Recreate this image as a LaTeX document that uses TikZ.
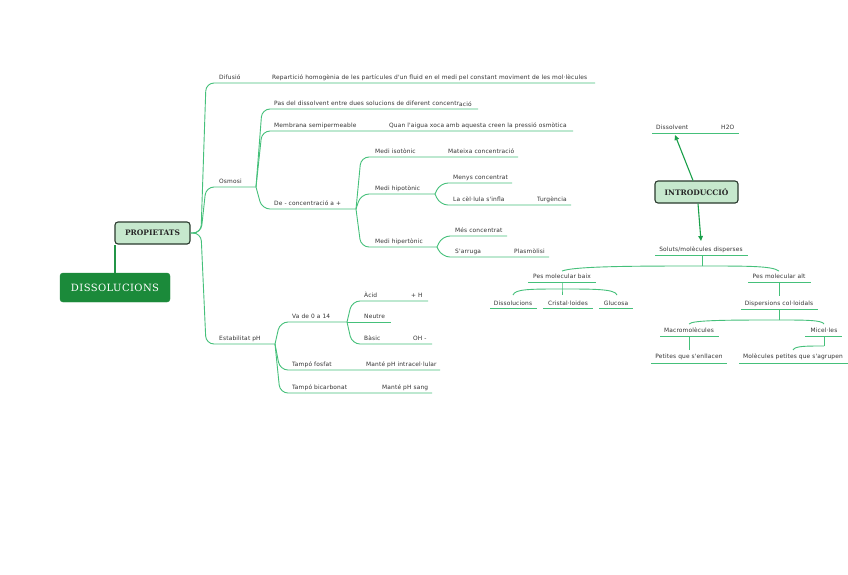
\documentclass[tikz,border=0pt]{standalone}
\usepackage{fontspec}
\usetikzlibrary{arrows.meta}
\newfontfamily\lblfont[LetterSpace=2.5]{DejaVu Sans}
\newfontfamily\ttlfont[LetterSpace=4]{DejaVu Serif}
\newfontfamily\subfont{DejaVu Serif}
\definecolor{lineg}{HTML}{45C07A}
\definecolor{darkg}{HTML}{1B8A3A}
\definecolor{lightg}{HTML}{C6E8CD}
\definecolor{arrg}{HTML}{1AA04A}
\definecolor{txt}{HTML}{333333}
\definecolor{boxline}{HTML}{2A3A2E}
\tikzset{
  lbl/.style={anchor=base west, inner sep=0pt, font=\lblfont\fontsize{5.9}{6.5}\selectfont, text=txt},
  clbl/.style={lbl, anchor=base},
  conn/.style={draw=lineg, line width=0.9pt, rounded corners=8pt},
  uline/.style={draw=lineg, line width=0.9pt},
  brk/.style={draw=lineg, line width=0.9pt},
  arr/.style={draw=arrg, line width=1.1pt, -{Triangle[length=5pt,width=4.5pt]}},
  mainbox/.style={fill=darkg, draw=darkg, rounded corners=3pt, text=white, inner sep=0pt,
    minimum width=110pt, minimum height=29pt, font=\ttlfont\fontsize{10}{12}\selectfont},
  subbox/.style={fill=lightg, draw=boxline, line width=1.1pt, rounded corners=3pt, text=black!85, inner sep=0pt,
    font=\subfont\bfseries\fontsize{7.5}{9}\selectfont}
}
\begin{document}
\begin{tikzpicture}[x=1pt,y=-1pt]
\fill[white] (0,0) rectangle (848,574);
\useasboundingbox (0,0) rectangle (848,574);

% ---------- main boxes ----------
\node[mainbox] (diss) at (115,287.5) {DISSOLUCIONS};
\node[subbox, minimum width=75pt, minimum height=22pt] (prop) at (152.5,233) {PROPIETATS};
\draw[uline, line width=1.2pt, draw=darkg!80!lineg] (diss.north) -- (diss.north |- prop.south);

% ---------- PROPIETATS branches ----------
\coordinate (f1) at (201,233);
\coordinate (difE) at (595,83);
\coordinate (f2) at (256,187);
\coordinate (f3) at (275,344);
\draw[conn] (prop.east) -- (f1) -- (206,83) -- (difE);
\draw[conn] (prop.east) -- (f1) -- (206,187) -- (f2);
\draw[conn] (prop.east) -- (f1) -- (206,344) -- (f3);
\node[lbl] (difu) at (219,79.5) {Difusió};
\node[lbl] (rep) at (272,79.5) {Repartició homogènia de les partícules d'un fluid en el medi pel constant moviment de les mol·lècules};
\node[lbl] (osm) at (219,183.5) {Osmosi};
\node[lbl] (estab) at (219,340.5) {Estabilitat pH};

% Osmosi children
\coordinate (pasE) at (478,109);
\coordinate (memE) at (573,131);
\coordinate (f4) at (356,209);
\draw[conn] (f2) -- (262,109) -- (pasE);
\draw[conn] (f2) -- (262,131) -- (memE);
\draw[conn] (f2) -- (262,209) -- (f4);
\node[lbl] (pas) at (274,105.5) {Pas del dissolvent entre dues solucions de diferent concentr\raisebox{-1.3pt}{ació}};
\node[lbl] (mem) at (274,127.5) {Membrana semipermeable};
\node[lbl] (quan) at (389,127.5) {Quan l'aigua xoca amb aquesta creen la pressió osmòtica};
\node[lbl] (dec) at (274,205.5) {De - concentració a +};

% De - concentració a + children
\coordinate (isoE) at (518,157);
\coordinate (f5) at (435,194);
\coordinate (f6) at (437,247);
\draw[conn] (f4) -- (361,157) -- (isoE);
\draw[conn] (f4) -- (361,194) -- (f5);
\draw[conn] (f4) -- (361,247) -- (f6);
\node[lbl] (iso) at (375,153.5) {Medi isotònic};
\node[lbl] (mat) at (448,153.5) {Mateixa concentració};
\node[lbl] (hipo) at (375,190.5) {Medi hipotònic};
\node[lbl] (hiper) at (375,243.5) {Medi hipertònic};

% hipotònic children
\coordinate (menE) at (512,183);
\coordinate (celE) at (571,205);
\draw[conn] (f5) -- (440,183) -- (menE);
\draw[conn] (f5) -- (440,205) -- (celE);
\node[lbl] (men) at (453,179.5) {Menys concentrat};
\node[lbl] (cel) at (453,201.5) {La cèl·lula s'infla};
\node[lbl] (tur) at (537,201.5) {Turgència};

% hipertònic children
\coordinate (mesE) at (507,236);
\coordinate (arrE) at (549,257);
\draw[conn] (f6) -- (442,236) -- (mesE);
\draw[conn] (f6) -- (442,257) -- (arrE);
\node[lbl] (mes) at (455,232.5) {Més concentrat};
\node[lbl] (arru) at (455,253.5) {S'arruga};
\node[lbl] (pla) at (514,253.5) {Plasmòlisi};

% Estabilitat pH children
\coordinate (f7) at (347,322);
\coordinate (fosE) at (440,370);
\coordinate (bicE) at (432,393);
\draw[conn] (f3) -- (280,322) -- (f7);
\draw[conn] (f3) -- (280,370) -- (fosE);
\draw[conn] (f3) -- (280,393) -- (bicE);
\node[lbl] (va) at (292,318.5) {Va de 0 a 14};
\node[lbl] (fos) at (292,366.5) {Tampó fosfat};
\node[lbl] (mint) at (366,366.5) {Manté pH intracel·lular};
\node[lbl] (bic) at (292,389.5) {Tampó bicarbonat};
\node[lbl] (msang) at (382,389.5) {Manté pH sang};

% Va de 0 a 14 children
\coordinate (acE) at (428,301);
\coordinate (neE) at (391,322);
\coordinate (baE) at (432,344);
\draw[conn] (f7) -- (352,301) -- (acE);
\draw[conn] (f7) -- (neE);
\draw[conn] (f7) -- (352,344) -- (baE);
\node[lbl] (acid) at (364,297.5) {Àcid};
\node[lbl] (hplus) at (411,297.5) {+ H};
\node[lbl] (neu) at (364,318.5) {Neutre};
\node[lbl] (bas) at (364,340.5) {Bàsic};
\node[lbl] (oh) at (413,340.5) {OH -};

% ---------- INTRODUCCIÓ ----------
\node[subbox, minimum width=83pt, minimum height=22pt] (intro) at (696.5,192) {INTRODUCCIÓ};
\coordinate (disS) at (652,133);
\coordinate (disE) at (739,133);
\coordinate (disIn) at (675,135);
\draw[uline] (disS) -- (disE);
\node[lbl] (dissv) at (656,129.5) {Dissolvent};
\node[lbl] (h2o) at (721,129.5) {H2O};
\draw[arr] ([xshift=-3.5pt]intro.north) -- (disIn);

\node[clbl] (sol) at (701,251.5) {Soluts/molècules disperses};
\coordinate (solS) at (655,255);
\coordinate (solE) at (748,255);
\coordinate (solIn) at (701,241);
\draw[uline] (solS) -- (solE);
\draw[arr] ([xshift=1.5pt]intro.south) -- (solIn);

% soluts fork
\coordinate (g1) at (702,255);
\coordinate (g1b) at (702,266);
\draw[brk] (g1) -- (g1b);
\node[clbl] (baix) at (562,278.5) {Pes molecular baix};
\node[clbl] (alt) at (779,278.5) {Pes molecular alt};
\draw[brk] (g1b) .. controls (640,266) and (575,266) .. (562,271);
\draw[brk] (g1b) .. controls (750,266) and (772,266) .. (779,271);
\draw[uline] (528,282) -- (596,282);
\draw[uline] (748,282) -- (811,282);

% Pes molecular baix children
\coordinate (g2) at (562,282);
\coordinate (g2b) at (562,289);
\draw[brk] (g2) -- (g2b) -- (562,295);
\draw[brk] (g2b) .. controls (530,289) and (515,289) .. (513,295);
\draw[brk] (g2b) .. controls (595,289) and (615,289) .. (617,295);
\node[clbl] (dlu) at (513,305.5) {Dissolucions};
\node[clbl] (cri) at (568,305.5) {Cristal·loides};
\node[clbl] (glu) at (616,305.5) {Glucosa};
\draw[uline] (490,308) -- (537,308);
\draw[uline] (543,308) -- (593,308);
\draw[uline] (599,308) -- (633,308);

% Pes molecular alt children
\coordinate (g3) at (779,282);
\draw[brk] (g3) -- (779,296);
\node[clbl] (disp) at (779,305.5) {Dispersions col·loidals};
\draw[uline] (741,309) -- (818,309);
\coordinate (g4) at (779,309);
\coordinate (g4b) at (779,320);
\draw[brk] (g4) -- (g4b);
\draw[brk] (g4b) .. controls (730,320) and (692,320) .. (689,324);
\draw[brk] (g4b) .. controls (805,320) and (822,320) .. (824,324);
\node[clbl] (macro) at (689,332.5) {Macromolècules};
\node[clbl] (mice) at (824,332.5) {Micel·les};
\draw[uline] (660,336) -- (719,336);
\draw[uline] (805,336) -- (842,336);

\draw[brk] (689,336) -- (689,350);
\node[clbl] (pet) at (689,358.5) {Petites que s'enllacen};
\draw[uline] (651,363) -- (727,363);

\coordinate (g5) at (824,336);
\coordinate (g5b) at (824,346);
\draw[brk] (g5) -- (g5b);
\draw[brk] (g5b) .. controls (805,346) and (795,346) .. (793,350);
\node[clbl] (molp) at (793,358.5) {Molècules petites que s'agrupen};
\draw[uline] (739,363) -- (848,363);
\end{tikzpicture}
\end{document}
